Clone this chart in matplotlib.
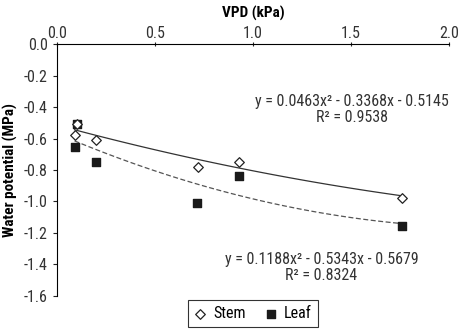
import numpy as np
import matplotlib.pyplot as plt

plt.rcParams['font.family'] = ['Roboto Condensed', 'Archivo Narrow', 'DejaVu Sans']

# Data
stem_vpd = [0.10, 0.09, 0.20, 0.72, 0.93, 1.76]
stem_wp = [-0.51, -0.58, -0.61, -0.78, -0.75, -0.975]
leaf_vpd = [0.10, 0.09, 0.20, 0.715, 0.93, 1.76]
leaf_wp = [-0.51, -0.655, -0.75, -1.01, -0.84, -1.155]

# Trend line coefficients (from chart labels)
stem_fit = [0.0463, -0.3368, -0.5145]
leaf_fit = [0.1188, -0.5343, -0.5679]

x_ticks = [0.0, 0.5, 1.0, 1.5, 2.0]
y_ticks = [-1.6, -1.4, -1.2, -1.0, -0.8, -0.6, -0.4, -0.2, 0.0]

fig = plt.figure(figsize=(4.59, 3.34), dpi=100)
ax = fig.add_axes([0.124, 0.114, 0.854, 0.754])

x = np.linspace(0.09, 1.76, 100)
ax.plot(x, np.polyval(stem_fit, x), color='#333333', lw=0.9, linestyle='-')
ax.plot(x, np.polyval(leaf_fit, x), color='#555555', lw=0.9, linestyle=(0, (4, 2)))

ax.scatter(leaf_vpd, leaf_wp, marker='s', s=38, color='#1a1a1a', label='Leaf', zorder=3)
ax.scatter(stem_vpd, stem_wp, marker='D', s=24, facecolor='white', edgecolor='#222222',
           linewidth=0.9, label='Stem', zorder=4)

ax.set_xlim(0, 2.0)
ax.set_ylim(-1.6, 0)
ax.set_xticks(x_ticks)
ax.set_yticks(y_ticks)
ax.set_xticklabels(['%.1f' % v for v in x_ticks])
ax.set_yticklabels(['%.1f' % v if v != 0 else '0.0' for v in y_ticks])
ax.xaxis.tick_top()
ax.xaxis.set_label_position('top')
ax.spines['bottom'].set_visible(False)
ax.spines['right'].set_visible(False)
ax.tick_params(axis='both', labelsize=11.5, length=3, width=0.8, color='#222222', labelcolor='#333333')
ax.tick_params(axis='x', direction='inout', pad=1)
ax.set_xlabel('VPD (kPa)', fontsize=11, fontweight='bold', labelpad=6)
ax.set_ylabel('Water potential (MPa)', fontsize=11, fontweight='bold', labelpad=4)

ax.text(1.505, -0.415, 'y = 0.0463x² - 0.3368x - 0.5145\nR² = 0.9538', ha='center', va='center',
        fontsize=11.5, color='#333333', linespacing=1.05)
ax.text(1.35, -1.42, 'y = 0.1188x² - 0.5343x - 0.5679\nR² = 0.8324', ha='center', va='center',
        fontsize=11.5, color='#333333', linespacing=1.05)

handles, labels = ax.get_legend_handles_labels()
leg = fig.legend(handles[::-1], labels[::-1], loc='center', bbox_to_anchor=(253 / 459, 1 - 313.5 / 334),
                 ncol=2, fontsize=11.5, frameon=True, fancybox=False, edgecolor='black',
                 handlelength=0.8, handletextpad=0.4, columnspacing=1.2, borderpad=0.35)
leg.get_frame().set_linewidth(0.8)

fig.savefig('out.png', dpi=100)
